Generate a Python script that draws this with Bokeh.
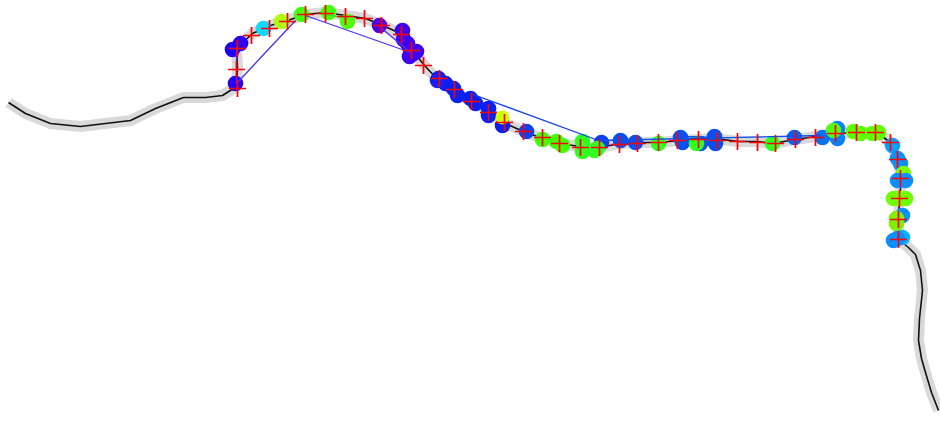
from bokeh.plotting import figure
from bokeh.models import Range1d
from bokeh.embed import file_html
from bokeh.resources import INLINE

track_x = [8,25,50,80,105,130,155,183,205,222,236,237,236,252,270,287,305,325,345,365,380,400,412,424,438,455,470,488,503,525,540,558,580,598,620,635,658,680,697,715,738,757,772,795,815,835,855,875,890,897,901,899,898,898,908,915,920,922,919,918,921,925,931,938]
track_y = [102,113,123,126,123,120,108,97,97,95,86,68,48,33,25,20,14,12,15,18,24,33,50,65,80,92,100,110,122,132,137,143,146,147,143,142,142,140,139,138,141,141,143,139,136,133,132,131,142,160,178,198,218,239,247,254,270,290,318,340,358,372,392,410]

cross_x = [237,236,237,251,269,287,305,325,345,364,381,401,411,423,439,454,471,488,504,523,542,559,580,599,619,637,658,677,698,717,737,757,775,795,815,835,856,875,890,897,900,899,898,898]
cross_y = [88,69,48,35,28,21,14,13,16,18,25,34,50,65,78,89,101,112,122,131,137,143,147,147,144,143,142,140,139,140,141,142,143,139,137,133,132,132,142,159,178,198,219,239]

circle_x = [235,240,232,263,281,301,328,347,379,402,403,407,410,413,416,409,438,445,437,453,457,470,475,488,488,502,526,542,556,562,582,582,601,597,594,620,635,658,680,682,700,696,714,715,772,794,822,837,837,833,853,860,872,878,892,897,900,903,897,905,893,905,899,902,896,896,902,897,893]
circle_y = [83,43,49,28,21,14,12,21,25,30,39,43,50,53,51,56,78,83,80,88,95,98,103,108,115,125,131,139,141,145,141,151,142,148,150,140,142,143,137,142,143,143,136,143,143,137,137,128,138,130,131,133,133,132,145,158,163,173,180,180,198,198,198,215,218,223,237,238,240]
circle_c = ["#2a00f0","#3000ee","#2000f5","#10d8ff","#b0ff10","#40ff10","#40ff00","#50ff10","#5000e0","#4000f0","#4000f0","#4000f0","#4000f0","#4000f0","#4000f0","#4000f0","#0a20f0","#0a20f0","#1a20f0","#0a20f0","#0a20f0","#0a20f0","#0a20f0","#0a20f0","#0a20f0","#0a20f0","#0a40f0","#40ff00","#40ff00","#40ff00","#30ff20","#30ff20","#0a40f0","#30ff20","#30ff20","#0a50f0","#0a50f0","#30ff20","#0a50f0","#0a50f0","#0a50f0","#30ff20","#0a50f0","#0a50f0","#30ff20","#0a60f0","#0a70f0","#0a80ff","#0a80ff","#50ff10","#60ff00","#60ff00","#60ff00","#60ff00","#0aa0ff","#0a90ff","#0a90ff","#80ff00","#0a90ff","#0a90ff","#70ff00","#70ff00","#70ff00","#0a90ff","#80f000","#80f000","#10b0ff","#0a90ff","#0a90ff"]
# the yellow dot sits on top of the blue ones
yellow_x = [502]
yellow_y = [117]
yellow_c = ["#d0ff00"]

link_xs = [[236,236,295],[305,410,380,402],[470,598],[600,820],[680,715],[325,347]]
link_ys = [[48,83,20],[15,52,27,45],[93,140],[140,135],[136,137],[14,18]]
link_c = ["#5030f0","#5030f0","#1040f0","#0a50f0","#0a50f0","#40e020"]

p = figure(width=940, height=423, output_backend="svg", toolbar_location=None,
           x_range=Range1d(0, 940), y_range=Range1d(423, 0),
           min_border=0, min_border_left=0, min_border_right=0,
           min_border_top=0, min_border_bottom=0)
p.axis.visible = False
p.grid.visible = False
p.outline_line_color = None
p.background_fill_color = "white"

p.line(track_x, track_y, line_color="#d9d9d9", line_width=11, line_join="round")
p.line(track_x, track_y, line_color="#111111", line_width=1.6, line_join="round")
p.circle(circle_x, circle_y, radius=7.8, color=circle_c, line_color=None)
p.circle(yellow_x, yellow_y, radius=7, color=yellow_c, line_color=None)
p.multi_line(link_xs, link_ys, line_color=link_c, line_width=1.3)
p.scatter(cross_x, cross_y, marker="cross", size=17, fill_color=None,
          line_color="#ff0000", line_width=1.7)

open("out.html", "w").write(file_html(p, INLINE))
